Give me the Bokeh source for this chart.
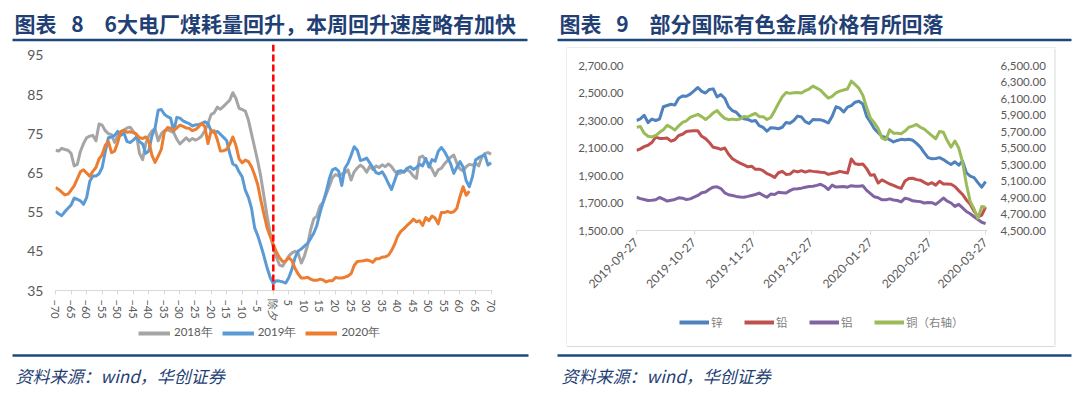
import math
import pandas as pd
from bokeh.plotting import figure
from bokeh.models import (Range1d, LinearAxis, FixedTicker, Span, Legend, LegendItem,
                          DatetimeTickFormatter, NumeralTickFormatter)
from bokeh.layouts import row, column
from bokeh.embed import file_html
from bokeh.resources import INLINE
from bokeh.core.properties import value

# ---------------- data: chart 8 (coal consumption, days around Chinese New Year's Eve)
days = list(range(-70, 71))
days_2020 = list(range(-70, 64))
x_ticks = list(range(-70, 71, 5))
y_ticks_left = [35, 45, 55, 65, 75, 85, 95]

coal_2018 = [
    70.8, 70.6, 71.3, 71.0, 70.8, 70.0, 66.8, 67.2, 70.5, 72.5,
    74.0, 74.4, 74.6, 73.2, 77.5, 77.2, 75.8, 75.0, 74.8, 72.8,
    74.5, 75.5, 76.0, 76.5, 76.7, 75.6, 74.8, 70.0, 68.4, 72.5,
    74.5, 75.7, 76.3, 73.2, 75.0, 75.8, 76.0, 75.7, 75.3, 73.6,
    72.4, 73.2, 74.0, 73.2, 73.8, 73.4, 73.8, 74.5, 75.8, 77.6,
    79.9, 80.4, 81.8, 81.3, 82.0, 82.8, 83.6, 85.5, 84.0, 81.5,
    81.2, 80.8, 78.5, 75.0, 71.5, 68.0, 64.0, 59.0, 54.0, 49.5,
    46.0,
    43.5, 41.5, 41.2, 42.6, 43.8, 44.6, 45.0, 44.5, 42.0, 43.8,
    46.5, 50.5, 53.3, 54.0, 56.6, 57.5, 59.6, 61.6, 63.8, 64.6,
    64.3, 64.7, 65.1, 65.8, 63.2, 65.3, 66.3, 67.0, 66.4, 65.2,
    66.7, 65.9, 66.8, 66.4, 67.1, 66.6, 67.3, 66.6, 65.5, 64.8,
    65.0, 65.4, 65.8, 65.3, 64.2, 63.6, 69.0, 69.3, 68.2, 67.2,
    66.0, 64.3, 65.8, 66.2, 67.3, 68.2, 69.0, 69.6, 67.5, 66.0,
    65.5, 66.6, 67.2, 67.0, 67.5, 66.8, 69.0, 70.0, 70.2, 69.8,
]
coal_2019 = [
    55.2, 54.6, 54.1, 55.1, 56.0, 56.8, 58.6, 58.3, 57.9, 57.0,
    58.7, 62.8, 64.2, 64.2, 64.8, 66.4, 70.4, 74.0, 74.2, 74.6,
    75.6, 74.6, 75.2, 73.0, 72.8, 73.4, 74.2, 73.0, 72.4, 70.0,
    70.6, 74.5, 76.5, 81.0, 81.2, 80.0, 79.4, 79.0, 75.7, 79.2,
    79.0, 78.3, 77.9, 77.6, 77.0, 77.3, 77.4, 77.6, 78.1, 77.6,
    75.8, 75.3, 75.6, 74.9, 74.1, 73.3, 70.0, 67.3, 66.9, 65.3,
    64.0, 60.6, 58.8, 56.0, 51.0, 49.0, 46.5, 43.8, 40.8, 38.3,
    36.8,
    37.5, 37.4, 37.2, 36.9, 38.3, 40.5, 43.4, 45.1, 45.6, 46.3,
    47.0, 48.3, 49.6, 51.6, 54.8, 57.5, 60.2, 63.5, 65.8, 66.2,
    65.5, 61.8, 66.2, 67.5, 69.5, 71.7, 70.8, 68.2, 68.4, 68.8,
    67.6, 66.4, 65.1, 64.8, 65.3, 64.0, 62.3, 60.8, 63.0, 65.4,
    65.6, 65.2, 66.2, 66.6, 65.9, 66.4, 67.2, 66.8, 68.7, 66.5,
    68.4, 68.0, 70.5, 71.5, 70.5, 69.0, 67.3, 64.9, 66.5, 67.9,
    66.5, 63.0, 61.5, 64.0, 68.3, 68.9, 69.3, 69.6, 67.0, 67.6,
]
coal_2020 = [
    61.3, 60.8, 60.1, 59.4, 59.6, 60.6, 61.7, 63.5, 65.3, 65.8,
    65.0, 64.2, 65.4, 66.4, 68.6, 69.7, 72.1, 73.0, 70.2, 70.6,
    72.8, 75.6, 75.9, 75.4, 75.5, 75.3, 74.9, 74.0, 73.8, 74.2,
    73.1, 69.5, 67.7, 69.3, 71.0, 75.5, 76.6, 76.4, 75.9, 76.5,
    77.2, 76.9, 76.5, 76.4, 75.8, 76.1, 76.8, 77.7, 76.8, 72.5,
    75.7, 75.8, 73.5, 70.6, 70.7, 71.0, 72.3, 74.2, 72.0, 68.6,
    67.6, 68.3, 67.9, 66.6, 64.5, 62.0, 58.0, 54.5, 51.0, 48.8,
    46.8, 44.8, 43.4, 42.4, 42.5, 43.4, 42.6, 40.6, 39.2, 38.2, 38.2,
    38.4, 37.9, 37.6, 37.6, 37.9, 37.7, 37.2, 37.5, 37.5, 38.3,
    38.2, 38.2, 38.4, 38.7, 39.3, 41.4, 42.4, 42.5, 42.6, 42.8,
    42.6, 42.2, 43.1, 43.1, 43.5, 43.6, 44.0, 45.2, 46.8, 48.9,
    50.1, 50.8, 51.6, 52.3, 53.2, 52.5, 52.8, 51.6, 53.6, 52.8,
    54.0, 53.5, 52.0, 54.9, 54.9, 55.2, 54.9, 55.1, 56.0, 59.0,
    61.5, 59.3, 60.4,
]
legend_left = ["2018年", "2019年", "2020年"]
colors_left = ["#A5A5A5", "#5B9BD5", "#ED7D31"]

# ---------------- data: chart 9 (metal prices)
dates = pd.date_range("2019-09-27", "2020-03-27", freq="2D")
date_ticks = ["2019-09-27", "2019-10-27", "2019-11-27", "2019-12-27",
              "2020-01-27", "2020-02-27", "2020-03-27"]
zinc = [
    2300, 2312, 2338, 2285, 2310, 2300, 2310, 2400, 2409, 2418,
    2412, 2462, 2478, 2476, 2492, 2516, 2540, 2512, 2500, 2526,
    2530, 2472, 2488, 2462, 2400, 2372, 2360, 2330, 2312, 2308,
    2295, 2300, 2263, 2250, 2222, 2248, 2246, 2240, 2251, 2286,
    2280, 2300, 2332, 2325, 2292, 2278, 2308, 2305, 2305, 2296,
    2282, 2330, 2400, 2390, 2362, 2397, 2409, 2433, 2440, 2420,
    2330, 2288, 2240, 2212, 2185, 2176, 2160, 2144, 2155, 2163,
    2160, 2164, 2156, 2134, 2106, 2066, 2030, 2022, 2024, 2030,
    2016, 1997, 1980, 2000, 1975, 2005, 1920, 1895, 1885, 1848,
    1815, 1855,
]
lead = [
    2082, 2094, 2110, 2120, 2140, 2179, 2170, 2170, 2172, 2150,
    2160, 2191, 2200, 2220, 2223, 2225, 2225, 2185, 2168, 2140,
    2105, 2100, 2090, 2100, 2055, 2022, 2005, 1990, 1978, 1963,
    1968, 1945, 1946, 1935, 1914, 1902, 1886, 1920, 1930, 1908,
    1910, 1934, 1926, 1935, 1925, 1934, 1930, 1928, 1924, 1922,
    1908, 1915, 1920, 1930, 1924, 1918, 2020, 1985, 1980, 1983,
    1950, 1902, 1905, 1845, 1868, 1853, 1838, 1828, 1815, 1806,
    1860, 1878, 1880, 1870, 1866, 1850, 1836, 1848, 1830, 1858,
    1838, 1838, 1836, 1820, 1790, 1762, 1722, 1690, 1640, 1600,
    1612, 1670,
]
aluminium = [
    1742, 1732, 1725, 1718, 1720, 1723, 1740, 1728, 1714, 1720,
    1726, 1738, 1735, 1725, 1730, 1742, 1755, 1775, 1780, 1800,
    1815, 1818, 1805, 1774, 1760, 1755, 1748, 1743, 1742, 1748,
    1755, 1762, 1772, 1756, 1742, 1765, 1762, 1778, 1775, 1772,
    1790, 1802, 1803, 1808, 1815, 1820, 1822, 1828, 1836, 1822,
    1798, 1830, 1816, 1818, 1820, 1815, 1826, 1822, 1822, 1826,
    1792, 1768, 1745, 1738, 1723, 1723, 1730, 1722, 1718, 1708,
    1735, 1728, 1716, 1712, 1710, 1700, 1704, 1702, 1690, 1712,
    1736, 1714, 1700, 1675, 1690, 1665, 1638, 1622, 1600, 1580,
    1560, 1550,
]
copper = [
    5752, 5760, 5680, 5642, 5635, 5651, 5690, 5722, 5775, 5750,
    5718, 5768, 5810, 5830, 5870, 5890, 5908, 5880, 5845, 5880,
    5925, 5955, 5900, 5860, 5843, 5850, 5843, 5852, 5882, 5876,
    5900, 5920, 5880, 5880, 5845, 5870, 5950, 6040, 6120, 6172,
    6162, 6170, 6172, 6166, 6195, 6215, 6250, 6225, 6200, 6150,
    6105, 6125, 6168, 6190, 6203, 6215, 6310, 6268, 6222, 6140,
    5990, 5860, 5805, 5735, 5620, 5600, 5720, 5680, 5678, 5672,
    5705, 5752, 5765, 5785, 5752, 5728, 5690, 5650, 5612, 5700,
    5690, 5590, 5510, 5585, 5500, 5330, 5060, 4850, 4760, 4650,
    4790, 4783,
]
left_ticks_r = list(range(1500, 2701, 200))
right_ticks_r = list(range(4500, 6501, 200))
legend_right = ["锌", "铅", "铝", "铜（右轴）"]
colors_right = ["#4F81BD", "#C0504D", "#8064A2", "#9BBB59"]

title_left = "图表\u2002\u20098\u30006大电厂煤耗量回升，本周回升速度略有加快"
title_right = "图表\u2002\u20099\u3000部分国际有色金属价格有所回落"
source_text = "资料来源：wind，华创证券"

TITLE_COLOR = "#1F3F75"
RULE_COLOR = "#1F497D"
BOX_COLOR = "#D9D9D9"
CJK = "Noto Sans CJK SC"
NUM = "Lato"


def base_fig(w, h, **kw):
    return figure(width=w, height=h, output_backend="svg", toolbar_location=None, title=None,
                  frame_align=False, **kw)


def deco_fig(w, h):
    """A figure whose frame is its whole canvas, y pointing down, for titles / rules / sources."""
    f = base_fig(w, h, x_range=Range1d(0, w), y_range=Range1d(h, 0),
                 x_axis_location=None, y_axis_location=None, min_border=0)
    f.grid.visible = False
    f.outline_line_color = None
    return f


def add_title(f, txt, x, y):
    f.text(x=[x], y=[y], text=[txt], text_font=value(CJK), text_font_style="bold",
           text_font_size="21px", text_color=TITLE_COLOR, text_baseline="middle", text_align="left")


def add_rule(f, x0, x1, yc, thick, color):
    f.quad(left=[x0], right=[x1], top=[yc - thick / 2], bottom=[yc + thick / 2],
           fill_color=color, line_color=None)


def add_source(f, x, y):
    f.text(x=[x], y=[y], text=[source_text], text_font=value(CJK), text_font_style="italic",
           text_font_size="17px", text_color=TITLE_COLOR, text_baseline="middle", text_align="left")


# ================= LEFT chart (page x 0..548) =================
hdrL = deco_fig(548, 44)
add_title(hdrL, title_left, 14, 22)
add_rule(hdrL, 12, 527, 39.5, 2.5, RULE_COLOR)

p1 = base_fig(548, 282, x_range=Range1d(-70, 70.45), y_range=Range1d(35, 97.8),
              min_border_left=55, min_border_right=56, min_border_top=0, min_border_bottom=36)
p1.outline_line_color = None
p1.xgrid.visible = False
p1.ygrid.visible = False
xa = p1.xaxis[0]
xa.ticker = FixedTicker(ticks=x_ticks)
xa.major_label_overrides = {0: "除夕"}
xa.major_label_orientation = -math.pi / 2
xa.axis_line_color = "#D9D9D9"
xa.major_tick_line_color = "#D9D9D9"
xa.major_tick_in = 0
xa.major_tick_out = 4
xa.minor_tick_line_color = None
xa.major_label_text_font = NUM
xa.major_label_text_font_size = "11px"
xa.major_label_text_color = "#595959"
xa.major_label_standoff = 5
ya = p1.yaxis[0]
ya.ticker = FixedTicker(ticks=y_ticks_left)
ya.axis_line_color = None
ya.major_tick_line_color = None
ya.major_tick_in = 0
ya.major_tick_out = 0
ya.minor_tick_line_color = None
ya.major_label_standoff = 12
ya.major_label_text_font = NUM
ya.major_label_text_font_size = "14px"
ya.major_label_text_color = "#595959"

for xs, ys, c in ((days, coal_2018, colors_left[0]), (days, coal_2019, colors_left[1]),
                  (days_2020, coal_2020, colors_left[2])):
    p1.line(xs, ys, line_color=c, line_width=3, line_join="round")
p1.add_layout(Span(location=0, dimension="height", line_color="#FF0000", line_width=2.5,
                   line_dash="7 3"))

ftrL = deco_fig(548, 71)
dummies = [ftrL.line([-50, -40], [-50, -50], line_color=c, line_width=4) for c in colors_left]
ftrL.add_layout(Legend(items=[LegendItem(label=l, renderers=[r]) for l, r in zip(legend_left, dummies)],
                       orientation="horizontal", location=(138, 57), glyph_width=32, glyph_height=12,
                       label_height=12, label_standoff=4, spacing=9, padding=0, margin=0,
                       border_line_color=None, background_fill_alpha=0,
                       label_text_font=NUM, label_text_font_size="11.5px", label_text_color="#595959"))
add_rule(ftrL, 12, 528, 29, 2.5, RULE_COLOR)
add_source(ftrL, 15, 49)

left_col = column(hdrL, p1, ftrL, spacing=0)

# ================= RIGHT chart (page x 548..1078) =================
hdrR = deco_fig(530, 48)
add_title(hdrR, title_right, 11, 22)
add_rule(hdrR, 9, 523, 39.5, 2.5, RULE_COLOR)
add_rule(hdrR, 18, 507, 47.5, 1, BOX_COLOR)

t0 = pd.Timestamp("2019-09-27")
p2 = base_fig(486, 257, x_axis_type="datetime",
              x_range=Range1d(t0, t0 + pd.Timedelta(days=183)), y_range=Range1d(1500, 2700),
              min_border_left=69, min_border_right=66, min_border_top=17, min_border_bottom=75)
p2.extra_y_ranges = {"cu": Range1d(4500, 6500)}
p2.outline_line_color = None
p2.xgrid.visible = False
p2.ygrid.visible = False
p2.add_layout(LinearAxis(y_range_name="cu"), "right")

xb = p2.xaxis[0]
xb.ticker = FixedTicker(ticks=[pd.Timestamp(d).value // 10**6 for d in date_ticks])
fmt = "%Y-%m-%d"
xb.formatter = DatetimeTickFormatter(days=fmt, months=fmt, years=fmt, hours=fmt, minutes=fmt)
xb.major_label_orientation = math.pi / 4
xb.axis_line_color = "#D9D9D9"
xb.major_tick_line_color = "#D9D9D9"
xb.major_tick_in = 0
xb.major_tick_out = 4
xb.minor_tick_line_color = None
xb.major_label_text_font = NUM
xb.major_label_text_font_size = "12px"
xb.major_label_text_color = "#595959"
xb.major_label_standoff = 6
for ax, ticks in ((p2.yaxis[0], left_ticks_r), (p2.yaxis[1], right_ticks_r)):
    ax.ticker = FixedTicker(ticks=ticks)
    ax.formatter = NumeralTickFormatter(format="0,0.00")
    ax.axis_line_color = None
    ax.major_tick_line_color = None
    ax.major_tick_in = 0
    ax.major_tick_out = 0
    ax.minor_tick_line_color = None
    ax.major_label_standoff = 13
    ax.major_label_text_font = NUM
    ax.major_label_text_font_size = "11.5px"
    ax.major_label_text_color = "#595959"

for ys, c in zip((zinc, lead, aluminium), colors_right[:3]):
    p2.line(dates, ys, line_color=c, line_width=3, line_join="round")
p2.line(dates, copper, line_color=colors_right[3], line_width=3, line_join="round", y_range_name="cu")

legR = deco_fig(486, 40)
dummiesR = [legR.line([-50, -40], [-50, -50], line_color=c, line_width=4) for c in colors_right]
legR.add_layout(Legend(items=[LegendItem(label=l, renderers=[r]) for l, r in zip(legend_right, dummiesR)],
                       orientation="horizontal", location=(112, 15), glyph_width=30, glyph_height=12,
                       label_height=12, label_standoff=2, spacing=13, padding=0, margin=0,
                       border_line_color=None, background_fill_alpha=0,
                       label_text_font=CJK, label_text_font_size="11.5px", label_text_color="#7F7F7F"))

edgeL = deco_fig(19, 297)
add_rule(edgeL, 18, 19, 148.5, 297, BOX_COLOR)
edgeR = deco_fig(25, 297)
add_rule(edgeR, 1, 2, 148.5, 297, BOX_COLOR)

ftrR = deco_fig(530, 52)
add_rule(ftrR, 18, 507, 1, 1, BOX_COLOR)
add_rule(ftrR, 9, 523, 10, 2.5, RULE_COLOR)
add_source(ftrR, 13, 30)

right_col = column(hdrR, row(edgeL, column(p2, legR, spacing=0), edgeR, spacing=0), ftrR, spacing=0)

layout = row(left_col, right_col, spacing=0)
open("out.html", "w").write(file_html(layout, INLINE))
